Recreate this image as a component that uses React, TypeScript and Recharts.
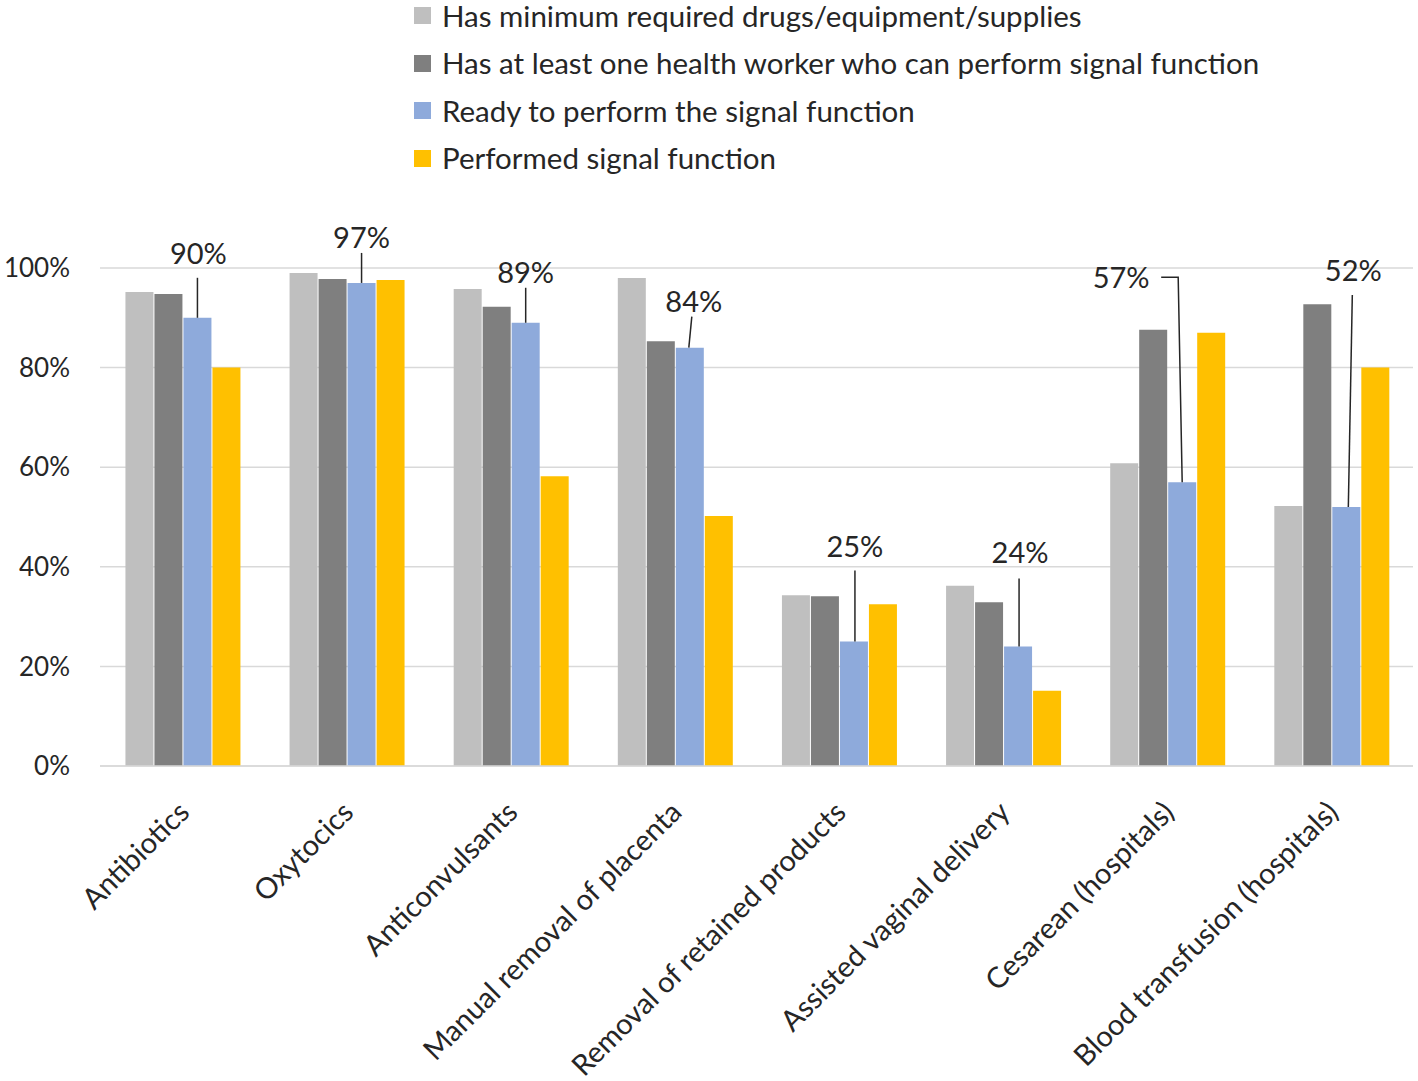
import React from 'react';
import { BarChart, Bar, XAxis, YAxis, CartesianGrid, LabelList } from 'recharts';

const categories = [
  'Antibiotics',
  'Oxytocics',
  'Anticonvulsants',
  'Manual removal of placenta',
  'Removal of retained products',
  'Assisted vaginal delivery',
  'Cesarean (hospitals)',
  'Blood transfusion (hospitals)',
];
const hasSupplies = [95.2, 99, 95.8, 98, 34.3, 36.2, 60.8, 52.2];
const hasWorker = [94.8, 97.8, 92.2, 85.3, 34.1, 32.9, 87.6, 92.7];
const ready = [90, 97, 89, 84, 25, 24, 57, 52];
const performed = [80, 97.6, 58.2, 50.2, 32.5, 15.1, 87, 80];
const yTicks = [0, 20, 40, 60, 80, 100];

const seriesNames = [
  'Has minimum required drugs/equipment/supplies',
  'Has at least one health worker who can perform signal function',
  'Ready to perform the signal function',
  'Performed signal function',
];
const seriesColors = ['#bfbfbf', '#7f7f7f', '#8eaadb', '#ffc000'];

const data = categories.map((c, i) => ({
  name: c,
  s1: hasSupplies[i],
  s2: hasWorker[i],
  s3: ready[i],
  s4: performed[i],
}));

// label placement relative to bar top-center (style config)
const labelLayout = [
  { lx: 1, ly: -64, pts: [[0, -40], [0, 0]] },
  { lx: 0, ly: -45, pts: [[0, -30], [0, 0]] },
  { lx: 0, ly: -50, pts: [[0, -35], [0, 0]] },
  { lx: 4, ly: -46, pts: [[2, -31], [-1, 0]] },
  { lx: 1, ly: -95, pts: [[1, -71], [1, 0]] },
  { lx: 2, ly: -93, pts: [[1, -68], [1, 0]] },
  { lx: -61, ly: -204, pts: [[-21, -205], [-4, -205], [0, 0]] },
  { lx: 7, ly: -236, pts: [[6, -212], [2, 0]] },
];

const FONT = 'Lato, "Open Sans", sans-serif';
const TEXT = '#262626';

const ReadyLabel = (props: any) => {
  const { x, y, width, value, index } = props;
  const L = labelLayout[index];
  if (!L) return null;
  const cx = x + width / 2;
  const cy = y;
  const pts = L.pts.map((p: number[]) => `${cx + p[0]},${cy + p[1]}`).join(' ');
  return (
    <g>
      <polyline points={pts} fill="none" stroke="#262626" strokeWidth={1.5} />
      <text
        x={cx + L.lx}
        y={cy + L.ly + 10}
        textAnchor="middle"
        fontSize={29}
        fontFamily={FONT}
        fill={TEXT}
      >
        {`${Math.round(value)}%`}
      </text>
    </g>
  );
};

const CatTick = (props: any) => {
  const { x, y, payload } = props;
  return (
    <g transform={`translate(${x + 9},${y + 40})`}>
      <text
        transform="rotate(-45)"
        textAnchor="end"
        fontSize={29}
        fontFamily={FONT}
        fill={TEXT}
      >
        {payload.value}
      </text>
    </g>
  );
};

const LegendBox = () => (
  <div
    style={{
      position: 'absolute',
      left: 414,
      top: -8,
      fontFamily: FONT,
      fontSize: 29.5,
      lineHeight: '30px',
      color: TEXT,
      whiteSpace: 'nowrap',
    }}
  >
    {seriesNames.map((n, i) => (
      <div key={n} style={{ display: 'flex', alignItems: 'center', height: 47.5 }}>
        <span
          style={{
            display: 'inline-block',
            width: 17,
            height: 17,
            background: seriesColors[i],
            marginRight: 11,
          }}
        />
        <span>{n}</span>
      </div>
    ))}
  </div>
);

export default function App() {
  return (
    <div style={{ position: 'absolute', left: 0, top: 0, width: 1418, height: 1081, background: '#fff' }}>
      <BarChart
        width={1418}
        height={1081}
        data={data}
        margin={{ top: 268, right: 5, bottom: 0, left: 0 }}
        barCategoryGap="15.5%"
        barGap={1}
      >
        <CartesianGrid vertical={false} stroke="#d9d9d9" strokeWidth={1.5} />
        <XAxis
          dataKey="name"
          tick={<CatTick />}
          tickLine={false}
          axisLine={{ stroke: '#d9d9d9', strokeWidth: 1.5 }}
          interval={0}
          height={315}
        />
        <YAxis
          domain={[0, 100]}
          ticks={yTicks}
          tickFormatter={(v: number) => `${v}%`}
          axisLine={false}
          tickLine={false}
          width={100}
          tickSize={0}
          tickMargin={30}
          tick={{ fontSize: 26, fontFamily: FONT, fill: TEXT }}
        />
        <Bar dataKey="s1" name={seriesNames[0]} fill={seriesColors[0]} isAnimationActive={false} />
        <Bar dataKey="s2" name={seriesNames[1]} fill={seriesColors[1]} isAnimationActive={false} />
        <Bar dataKey="s3" name={seriesNames[2]} fill={seriesColors[2]} isAnimationActive={false}>
          <LabelList dataKey="s3" content={<ReadyLabel />} />
        </Bar>
        <Bar dataKey="s4" name={seriesNames[3]} fill={seriesColors[3]} isAnimationActive={false} />
      </BarChart>
      <LegendBox />
    </div>
  );
}
